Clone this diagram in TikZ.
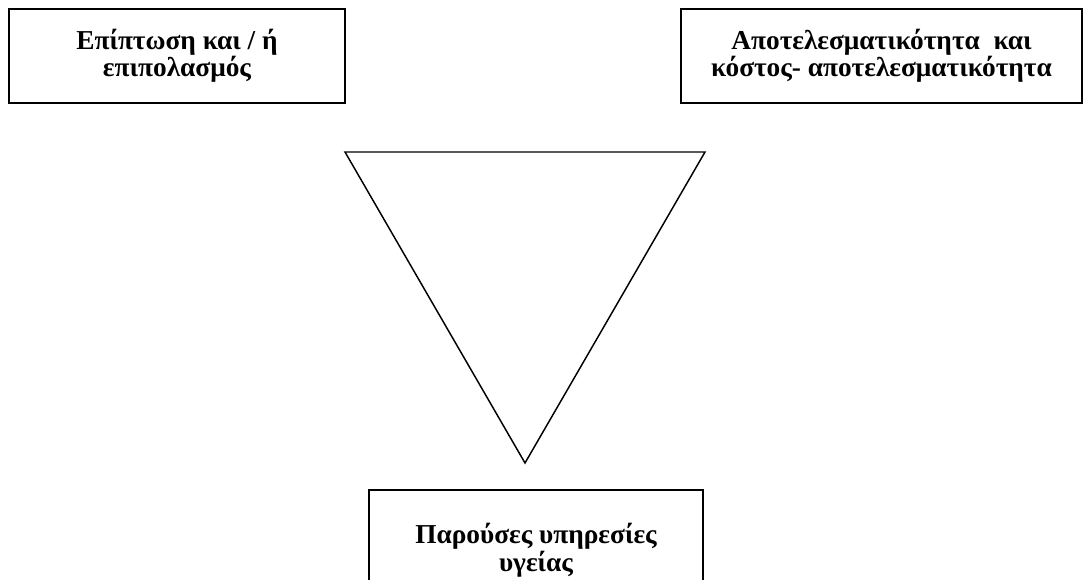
\documentclass[tikz,border=0pt]{standalone}
\usepackage{fontspec}
\setmainfont{Liberation Serif}
\usepackage{tikz}

\begin{document}
\begin{tikzpicture}[
  x=0.75pt, y=-0.75pt,
  every node/.style={draw, line width=1.3pt, align=center, inner sep=0pt,
    font=\bfseries\fontsize{20.5}{19.5}\selectfont},
  tri/.style={line width=1.1pt, line join=miter}
]
\clip (0,0) rectangle (1084,580);
\node[minimum width=252pt, minimum height=70pt] (incidence) at (177,56)
  {Επίπτωση και / ή\\επιπολασμός};
\node[minimum width=301pt, minimum height=70.5pt] (effect) at (881.5,56)
  {Αποτελεσματικότητα\ \ και\\κόστος- αποτελεσματικότητα};
\node[minimum width=250.5pt, anchor=north] (services) at (536,489)
  {\rule{0pt}{40.5pt}Παρούσες υπηρεσίες\\υγείας\rule[-40pt]{0pt}{0pt}};
\coordinate (tl) at (345,152);
\coordinate (tr) at (705,152);
\coordinate (tb) at (525,463);
\draw[tri] (tl) -- (tr) -- (tb) -- cycle;
\end{tikzpicture}
\end{document}
